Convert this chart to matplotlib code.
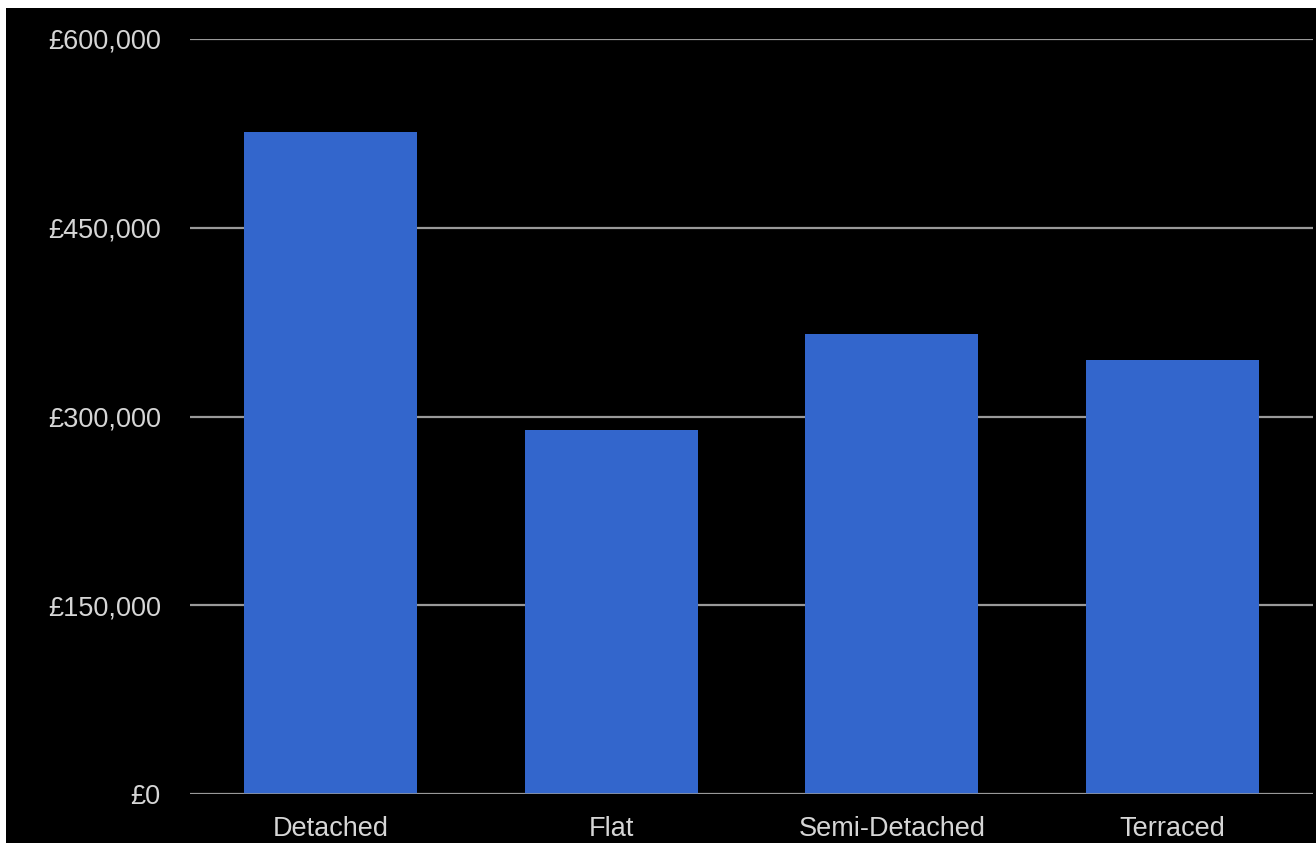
import matplotlib
matplotlib.use("Agg")
import matplotlib.pyplot as plt
from matplotlib.patches import Rectangle
from matplotlib.ticker import FuncFormatter

property_types = ["Detached", "Flat", "Semi-Detached", "Terraced"]
avg_prices = [525800, 289000, 365200, 344600]
y_ticks = [0, 150000, 300000, 450000, 600000]

bar_color = "#3366cc"
grid_color = "#999999"
text_color = "#d6d6d6"

plt.rcParams["font.family"] = ["Liberation Sans", "DejaVu Sans"]

fig = plt.figure(figsize=(13.16, 8.43), dpi=100, facecolor="white")
# black panel, leaving a thin white strip along the top and left edges
fig.add_artist(Rectangle((6 / 1316, 0), 1 - 6 / 1316, 1 - 8 / 843,
                         transform=fig.transFigure, facecolor="black",
                         edgecolor="none", zorder=-10))

ax = fig.add_axes([190 / 1316, 1 - 794 / 843, 1123 / 1316, 755 / 843])
ax.set_facecolor("black")

positions = range(len(property_types))
ax.bar(positions, avg_prices, width=0.617, color=bar_color, zorder=3)

ax.set_xlim(-0.5, 3.5)
ax.set_ylim(0, 600000)
ax.set_yticks(y_ticks)
ax.yaxis.set_major_formatter(FuncFormatter(lambda v, p: "£{:,.0f}".format(v)))
ax.set_xticks(list(positions))
ax.set_xticklabels(property_types)

ax.grid(axis="y", color=grid_color, linewidth=1.6, zorder=1)
ax.axhline(0, color=grid_color, linewidth=1.8, zorder=4)

for side in ["top", "right", "left", "bottom"]:
    ax.spines[side].set_visible(False)

ax.tick_params(axis="y", length=0, pad=21, labelsize=19.5, labelcolor=text_color)
ax.tick_params(axis="x", length=0, pad=16, labelsize=19.5, labelcolor=text_color)

fig.savefig("out.png", dpi=100, facecolor=fig.get_facecolor())
